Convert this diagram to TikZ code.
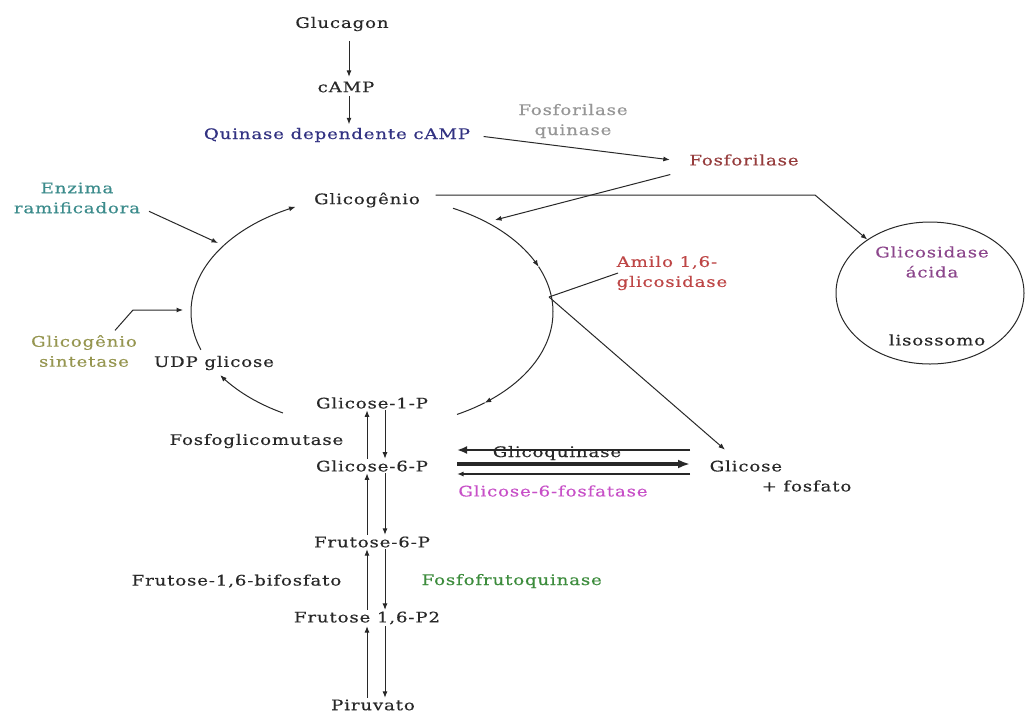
\documentclass[tikz,border=0pt]{standalone}
\usepackage{fontspec}
\setmainfont{DejaVu Serif}[FakeStretch=1.25,LetterSpace=6,FakeBold=0.4]
\usetikzlibrary{arrows.meta,shapes.geometric}
\definecolor{ink}{RGB}{40,40,40}
\definecolor{navyc}{RGB}{50,50,130}
\definecolor{grayq}{RGB}{150,150,150}
\definecolor{fosred}{RGB}{150,60,60}
\definecolor{tealc}{RGB}{60,140,140}
\definecolor{olivec}{RGB}{150,150,80}
\definecolor{amiloc}{RGB}{190,70,70}
\definecolor{purpc}{RGB}{140,70,140}
\definecolor{magc}{RGB}{200,80,200}
\definecolor{greenc}{RGB}{60,140,60}
\begin{document}
\begin{tikzpicture}[x=1pt,y=-1pt,
  lbl/.style={font=\fontsize{14.5}{20}\selectfont, inner sep=1.5pt, text=ink},
  con/.style={draw=ink, line width=1pt},
  arr/.style={con, -{Latex[length=6.5pt,width=5pt]}},
]
\useasboundingbox[fill=white] (0,0) rectangle (1027,713);

% x reference coordinates
\coordinate (xg) at (349,0);
\coordinate (xu) at (367,0);
\coordinate (xd) at (385,0);
\coordinate (xL) at (457,0);
\coordinate (xR) at (690,0);

% nodes
\node[lbl] (glucagon) at (342,24) {Glucagon};
\node[lbl] (camp) at (346,87) {cAMP};
\node[lbl,text=navyc] (pka) at (337,135) {Quinase dependente cAMP};
\node[lbl,text=grayq,align=center] (phk) at (573,121) {Fosforilase\\quinase};
\node[lbl,text=fosred] (phos) at (744,160) {Fosforilase};
\node[lbl] (glicogenio) at (367,200) {Glicogênio};
\node[lbl,text=tealc,align=center] (enz) at (77,198) {Enzima\\ramificadora};
\node[lbl,text=olivec,align=center] (gs) at (84,351) {Glicogênio\\sintetase};
\node[lbl] (udp) at (214,363) {UDP glicose};
\node[lbl,text=amiloc,align=left] (amilo) at (672,273) {Amilo 1,6-\\glicosidase};
\node[draw=ink,line width=1pt,ellipse,minimum width=188pt,minimum height=142pt] (lys) at (930,293) {};
\node[lbl,text=purpc,align=center] (gac) at (932,262) {Glicosidase\\ácida};
\node[lbl] (liso) at (937,340) {lisossomo};
\node[lbl] (g1p) at (372,403) {Glicose-1-P};
\node[lbl,anchor=east] (pgm) at (345,441) {Fosfoglicomutase};
\node[lbl] (g6p) at (372,466) {Glicose-6-P};
\node[lbl,anchor=west] (glicose) at (708,466) {Glicose};
\node[lbl,anchor=west] (fosfato) at (760,486) {+ fosfato};
\node[lbl] (glicoq) at (557,453) {Glicoquinase};
\node[lbl,text=magc] (g6pase) at (553,491) {Glicose-6-fosfatase};
\node[lbl] (f6p) at (372,542) {Frutose-6-P};
\node[lbl,anchor=east] (f16bf) at (343,581) {Frutose-1,6-bifosfato};
\node[lbl,anchor=west,text=greenc] (pfk) at (420,581) {Fosfofrutoquinase};
\node[lbl] (f16p2) at (367,618) {Frutose 1,6-P2};
\node[lbl] (pir) at (373,705) {Piruvato};

% free ends on the glycogen cycle
\coordinate (phtip) at (495,220);
\coordinate (enztip) at (218,243);
\coordinate (gstip) at (183,310);
\coordinate (gsbend) at (133,310);
\coordinate (J) at (549,297);
\coordinate (corner) at (815,195);

% glycogen cycle arcs
\draw[arr] plot[domain=199:115,samples=60,smooth] ({372+181*cos(\x)},{312-116*sin(\x)});
\draw[arr] plot[domain=240.5:213,samples=30,smooth] ({372+181*cos(\x)},{312-116*sin(\x)});
\draw[arr] plot[domain=63.4:23,samples=40,smooth] ({372+181*cos(\x)},{312-116*sin(\x)});
\draw[arr] plot[domain=23:-51.5,samples=60,smooth] ({372+181*cos(\x)},{312-116*sin(\x)});
\draw[con] plot[domain=-51.5:-62,samples=12,smooth] ({372+181*cos(\x)},{312-116*sin(\x)});

% top cascade
\draw[arr,shorten <=8pt,shorten >=3pt] (glucagon.south -| xg) -- (camp.north -| xg);
\draw[arr,shorten <=2pt,shorten >=2pt] (camp.south -| xg) -- (pka.north -| xg);
\draw[arr,shorten <=12pt,shorten >=18pt] (pka.east) -- ([yshift=-2pt]phos.west);
\draw[arr,shorten <=18pt] ([yshift=-10pt]phos.west) -- (phtip);

% glycogen to lysosome
\draw[arr,shorten <=14pt] ([yshift=5pt]glicogenio.east) -- (corner) -- (lys);

% enzymes on the left
\draw[arr,shorten <=8pt] ([yshift=-10pt]enz.east) -- (enztip);
\draw[arr] ([xshift=31pt,yshift=3pt]gs.north) -- (gsbend) -- (gstip);

% amylo-1,6-glucosidase and free glucose
\draw[con] (J) -- ([xshift=3pt]amilo.west);
\draw[arr] (J) -- ([xshift=17pt,yshift=9pt]glicose.north west);

% glucokinase / glucose-6-phosphatase
\draw[draw=ink,line width=2.6pt,-{Latex[length=10pt,width=8pt]}] ([yshift=16pt]glicose.west -| xR) -- ([yshift=16pt]glicose.west -| xL);
\draw[draw=ink,line width=3.8pt,-{Latex[length=12pt,width=9pt]}] ([yshift=2pt]glicose.west -| xL) -- ([yshift=2pt]glicose.west -| xR);
\draw[draw=ink,line width=1.3pt,-{Latex[length=6.5pt,width=5pt]}] ([yshift=-8pt]glicose.west -| xR) -- ([yshift=-8pt]glicose.west -| xL);

% vertical chain
\draw[arr] (g6p.north -| xu) -- (g1p.south -| xu);
\draw[arr] (g1p.south -| xd) -- (g6p.north -| xd);
\draw[arr] (f6p.north -| xu) -- (g6p.south -| xu);
\draw[arr] (g6p.south -| xd) -- (f6p.north -| xd);
\draw[arr] (f16p2.north -| xu) -- (f6p.south -| xu);
\draw[arr] (f6p.south -| xd) -- (f16p2.north -| xd);
\draw[arr] (pir.north -| xu) -- (f16p2.south -| xu);
\draw[arr] (f16p2.south -| xd) -- (pir.north -| xd);
\end{tikzpicture}
\end{document}
